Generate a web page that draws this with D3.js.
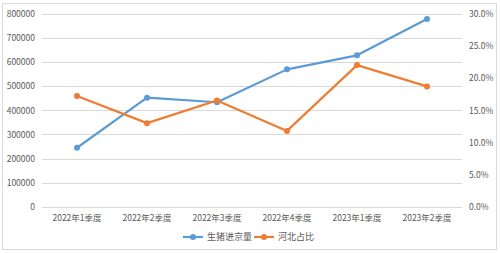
<!DOCTYPE html>
<html>
<head>
<meta charset="utf-8">
<script src="https://cdn.jsdelivr.net/npm/d3@7"></script>
<style>
  body { margin: 0; background: #fff; }
  text { font-family: "Noto Sans CJK SC", "DejaVu Sans", sans-serif; fill: #595959; }
</style>
</head>
<body>
<svg width="500" height="253"></svg>
<script>
const quarters = ['2022年1季度', '2022年2季度', '2022年3季度', '2022年4季度', '2023年1季度', '2023年2季度'];
const pigVolume = [245000, 452000, 433000, 569000, 627000, 777000];
const hebeiShare = [0.172, 0.13, 0.165, 0.118, 0.22, 0.187];
const leftTicks = [0, 100000, 200000, 300000, 400000, 500000, 600000, 700000, 800000];
const rightTicks = [0, 0.05, 0.10, 0.15, 0.20, 0.25, 0.30];
const seriesNames = ['生猪进京量', '河北占比'];
const blue = '#5b9bd5';
const orange = '#ed7d31';

const svg = d3.select('svg');

// chart border
svg.append('rect')
  .attr('x', 2.5).attr('y', 3.5)
  .attr('width', 494).attr('height', 246)
  .attr('fill', 'none')
  .attr('stroke', '#d9d9d9');

const x = d3.scaleBand()
  .domain(quarters)
  .range([42, 462]);
const yLeft = d3.scaleLinear()
  .domain([0, 800000])
  .range([207, 13.5]);
const yRight = d3.scaleLinear()
  .domain([0, 0.3])
  .range([207, 13.5]);

// gridlines
svg.append('g')
  .selectAll('line')
  .data(leftTicks)
  .join('line')
  .attr('x1', 42).attr('x2', 462)
  .attr('y1', d => Math.round(yLeft(d)) + 0.5)
  .attr('y2', d => Math.round(yLeft(d)) + 0.5)
  .attr('stroke', '#d9d9d9');

// left axis
const leftAxis = svg.append('g')
  .attr('transform', 'translate(38,0)')
  .call(d3.axisLeft(yLeft).tickValues(leftTicks).tickSize(0).tickFormat(d3.format('d')));
leftAxis.select('.domain').remove();
leftAxis.selectAll('text').attr('font-size', 8.5).attr('dy', '0.34em');

// right axis
const rightAxis = svg.append('g')
  .attr('transform', 'translate(466,0)')
  .call(d3.axisRight(yRight).tickValues(rightTicks).tickSize(0).tickFormat(d3.format('.1%')));
rightAxis.select('.domain').remove();
rightAxis.selectAll('text').attr('font-size', 8.5).attr('dy', '0.34em');

// bottom axis
const bottomAxis = svg.append('g')
  .attr('transform', 'translate(0,212)')
  .call(d3.axisBottom(x).tickSize(0));
bottomAxis.select('.domain').remove();
bottomAxis.selectAll('text').attr('font-size', 8.5).attr('dy', '0.71em');

const cx = d => x(d) + x.bandwidth() / 2;

function drawSeries(values, yScale, color) {
  const pts = quarters.map((q, i) => [cx(q), yScale(values[i])]);
  svg.append('path')
    .attr('d', d3.line()(pts))
    .attr('fill', 'none')
    .attr('stroke', color)
    .attr('stroke-width', 2.2)
    .attr('stroke-linejoin', 'round');
  svg.append('g')
    .selectAll('circle')
    .data(pts)
    .join('circle')
    .attr('cx', d => d[0])
    .attr('cy', d => d[1])
    .attr('r', 3)
    .attr('fill', color);
}

drawSeries(pigVolume, yLeft, blue);
drawSeries(hebeiShare, yRight, orange);

// legend
const legend = svg.append('g').attr('transform', 'translate(183,237)');
const legendItems = [
  { name: seriesNames[0], color: blue, x: 0 },
  { name: seriesNames[1], color: orange, x: 71 },
];
legendItems.forEach(item => {
  const g = legend.append('g').attr('transform', `translate(${item.x},0)`);
  g.append('line')
    .attr('x1', 0).attr('x2', 20)
    .attr('stroke', item.color)
    .attr('stroke-width', 2.2);
  g.append('circle').attr('cx', 10).attr('r', 3).attr('fill', item.color);
  g.append('text')
    .attr('x', 24)
    .attr('dy', '0.35em')
    .attr('font-size', 9)
    .text(item.name);
});
</script>
</body>
</html>
